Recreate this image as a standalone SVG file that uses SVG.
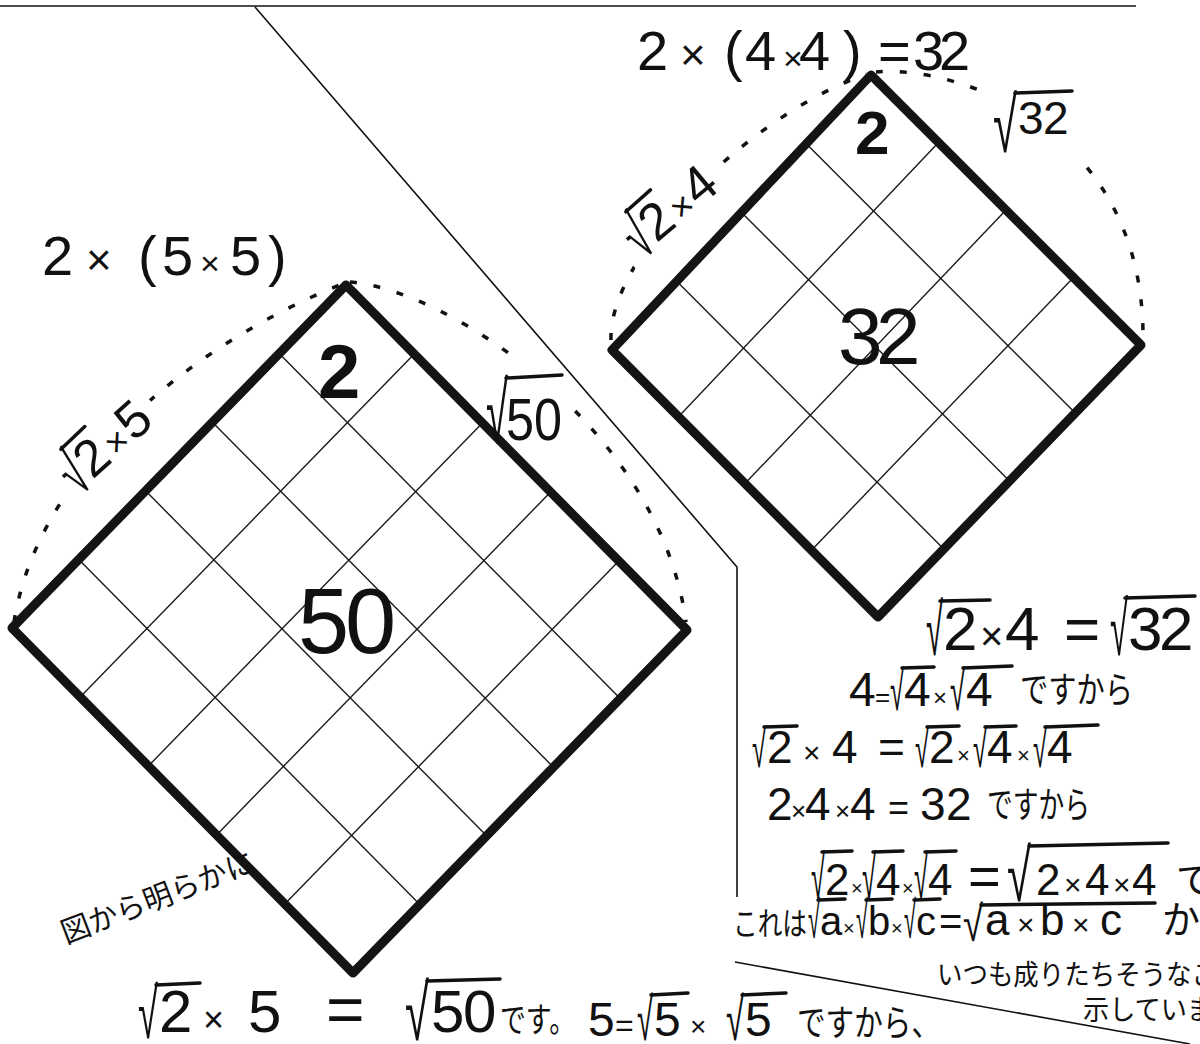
<svg xmlns="http://www.w3.org/2000/svg" width="1200" height="1044" viewBox="0 0 1200 1044">
<style>
.grid{stroke:#1a1a1a;stroke-width:1.4;fill:none}
.edge{stroke:#141414;stroke-width:9;fill:none;stroke-linejoin:round}
.arc{stroke:#111;stroke-width:3.5;fill:none;stroke-dasharray:7 17}
.frame{stroke:#111;stroke-width:1.6;fill:none}
.m{font-family:"Liberation Sans","DejaVu Sans",sans-serif;fill:#111}
.b{font-weight:bold}
.j{font-family:"Noto Sans CJK JP","Noto Sans CJK SC",sans-serif;fill:#111}
.v{stroke:#111;stroke-width:3.5;stroke-linecap:round;fill:none}
</style>
<defs>
<mask id="am" maskUnits="userSpaceOnUse" x="0" y="0" width="1200" height="1044">
<rect x="0" y="0" width="1200" height="1044" fill="#fff"/>
<rect x="-64" y="-34" width="128" height="62" fill="#000" transform="translate(105,446) rotate(-42)"/>
<rect x="-64" y="-34" width="128" height="62" fill="#000" transform="translate(670,210) rotate(-40)"/>
<rect x="482" y="360" width="86" height="88" fill="#000"/>
<rect x="985" y="84" width="95" height="76" fill="#000"/>
</mask>
</defs>
<rect x="0" y="0" width="1200" height="1044" fill="#fff"/>

<g id="connectors">
<line class="frame" x1="0" y1="6" x2="1136" y2="6" stroke-width="2"/>
<polyline class="frame" points="255,7 737,567 737,897"/>
<line class="frame" x1="735" y1="962" x2="1190" y2="1044" stroke-width="2"/>
<g mask="url(#am)">
<path class="arc" d="M14,622 C38,470 190,345 342,284"/>
<path class="arc" d="M350,282 C450,290 660,430 686,622"/>
<path class="arc" d="M611,340 C608,260 740,120 866,74"/>
<path class="arc" d="M876,72 C960,65 1145,130 1143,340"/>
</g>
</g>

<g id="square50">
<g class="grid">
<line x1="279.2" y1="353.6" x2="620.2" y2="698.6"/>
<line x1="212.4" y1="422.2" x2="553.4" y2="767.2"/>
<line x1="145.6" y1="490.8" x2="486.6" y2="835.8"/>
<line x1="78.8" y1="559.4" x2="419.8" y2="904.4"/>
<line x1="414.2" y1="354" x2="80.2" y2="697"/>
<line x1="482.4" y1="423" x2="148.4" y2="766"/>
<line x1="550.6" y1="492" x2="216.6" y2="835"/>
<line x1="618.8" y1="561" x2="284.8" y2="904"/>
</g>
<path class="edge" d="M346,285 L687,630 L353,973 L12,628 Z"/>
<text class="m b" x="318" y="398" font-size="76">2</text>
<text class="m" x="298 345" y="653" font-size="92">50</text>
</g>

<g id="square32">
<g class="grid">
<line x1="806.25" y1="143.75" x2="1075.25" y2="413"/>
<line x1="741.5" y1="212.5" x2="1009.5" y2="481"/>
<line x1="676.75" y1="281.25" x2="943.75" y2="549"/>
<line x1="938.5" y1="142.5" x2="678.5" y2="416.75"/>
<line x1="1006" y1="210" x2="745" y2="483.5"/>
<line x1="1073.5" y1="277.5" x2="811.5" y2="550.25"/>
</g>
<path class="edge" d="M871,75 L1141,345 L878,617 L612,350 Z"/>
<text class="m b" x="855" y="154" font-size="62">2</text>
<text class="m" x="838 876" y="364" font-size="80">32</text>
</g>

<g id="label-top32">
<text class="m" y="70" font-size="56"><tspan x="637">2</tspan><tspan x="680" font-size="44">×</tspan><tspan x="724">(</tspan><tspan x="745">4</tspan><tspan x="783" font-size="34">×</tspan><tspan x="799">4</tspan><tspan x="843">)</tspan><tspan x="878">=</tspan><tspan x="913">3</tspan><tspan x="939">2</tspan></text>
</g>

<g id="label-top50">
<text class="m" y="275" font-size="56"><tspan x="42">2</tspan><tspan x="86" font-size="44">×</tspan><tspan x="138">(</tspan><tspan x="162">5</tspan><tspan x="200" font-size="34">×</tspan><tspan x="230">5</tspan><tspan x="268">)</tspan></text>
</g>

<g id="label-r32">
<text class="m" x="993" y="152" font-size="78" textLength="24" lengthAdjust="spacingAndGlyphs">√</text>
<text class="m" x="1018 1043" y="134" font-size="46">32</text>
<line class="v" x1="1015" y1="93" x2="1072" y2="91"/>
</g>

<g id="label-r50">
<text class="m" x="486" y="443" font-size="86" textLength="22" lengthAdjust="spacingAndGlyphs">√</text>
<text class="m" x="506" y="440" font-size="60" textLength="56" lengthAdjust="spacingAndGlyphs">50</text>
<line class="v" x1="506" y1="378" x2="562" y2="375"/>
</g>

<g id="label-s25" transform="translate(105,446) rotate(-42)">
<text class="m" x="-53" y="21" font-size="64" textLength="21" lengthAdjust="spacingAndGlyphs">√</text>
<text class="m" y="17" font-size="52"><tspan x="-32">2</tspan><tspan x="1" font-size="36">×</tspan><tspan x="24">5</tspan></text>
<line class="v" x1="-35" y1="-27" x2="-2" y2="-28"/>
</g>

<g id="label-s24" transform="translate(670,210) rotate(-40)">
<text class="m" x="-53" y="21" font-size="64" textLength="21" lengthAdjust="spacingAndGlyphs">√</text>
<text class="m" y="17" font-size="52"><tspan x="-32">2</tspan><tspan x="1" font-size="36">×</tspan><tspan x="24">4</tspan></text>
<line class="v" x1="-35" y1="-27" x2="-2" y2="-28"/>
</g>

<g id="explain-right">
<text class="m" x="926" y="655" font-size="73" textLength="17" lengthAdjust="spacingAndGlyphs">√</text>
<text class="m" x="1110" y="655" font-size="76" textLength="18" lengthAdjust="spacingAndGlyphs">√</text>
<text class="m" y="650" font-size="62"><tspan x="943">2</tspan><tspan x="980" font-size="40">×</tspan><tspan x="1005">4</tspan><tspan x="1064">=</tspan><tspan x="1128">3</tspan><tspan x="1159">2</tspan></text>
<line class="v" x1="940" y1="601" x2="990" y2="600"/>
<line class="v" x1="1125" y1="598" x2="1195" y2="596"/>

<text class="m" x="890" y="710" font-size="56" textLength="14" lengthAdjust="spacingAndGlyphs">√</text>
<text class="m" x="950" y="710" font-size="56" textLength="15" lengthAdjust="spacingAndGlyphs">√</text>
<text class="m" y="706" font-size="48"><tspan x="849">4</tspan><tspan x="875" font-size="26">=</tspan><tspan x="904">4</tspan><tspan x="933" font-size="24">×</tspan><tspan x="966">4</tspan></text>
<line class="v" x1="902" y1="668" x2="934" y2="667"/>
<line class="v" x1="963" y1="668" x2="1012" y2="666"/>
<text class="j" x="1020" y="703" font-size="36" textLength="113" lengthAdjust="spacingAndGlyphs">ですから</text>

<text class="m" x="752" y="767" font-size="53" textLength="14" lengthAdjust="spacingAndGlyphs">√</text>
<text class="m" x="915" y="767" font-size="53" textLength="14" lengthAdjust="spacingAndGlyphs">√</text>
<text class="m" x="973" y="767" font-size="53" textLength="14" lengthAdjust="spacingAndGlyphs">√</text>
<text class="m" x="1033" y="767" font-size="53" textLength="14" lengthAdjust="spacingAndGlyphs">√</text>
<text class="m" y="763" font-size="46"><tspan x="767">2</tspan><tspan x="803" font-size="30">×</tspan><tspan x="832">4</tspan><tspan x="878">=</tspan><tspan x="929">2</tspan><tspan x="957" font-size="22">×</tspan><tspan x="987">4</tspan><tspan x="1017" font-size="22">×</tspan><tspan x="1047">4</tspan></text>
<line class="v" x1="764" y1="727" x2="797" y2="726"/>
<line class="v" x1="927" y1="727" x2="959" y2="726"/>
<line class="v" x1="985" y1="727" x2="1016" y2="726"/>
<line class="v" x1="1045" y1="727" x2="1098" y2="725"/>

<text class="m" y="820" font-size="46"><tspan x="767">2</tspan><tspan x="791" font-size="26">×</tspan><tspan x="805">4</tspan><tspan x="835" font-size="26">×</tspan><tspan x="850">4</tspan><tspan x="888" font-size="36">=</tspan><tspan x="920">3</tspan><tspan x="946">2</tspan></text>
<text class="j" x="987" y="818" font-size="36" textLength="103" lengthAdjust="spacingAndGlyphs">ですから</text>

<text class="m" x="811" y="899" font-size="62" textLength="14" lengthAdjust="spacingAndGlyphs">√</text>
<text class="m" x="862" y="899" font-size="62" textLength="14" lengthAdjust="spacingAndGlyphs">√</text>
<text class="m" x="914" y="899" font-size="62" textLength="14" lengthAdjust="spacingAndGlyphs">√</text>
<text class="m" x="1007" y="901" font-size="74" textLength="24" lengthAdjust="spacingAndGlyphs">√</text>
<text class="m" y="895" font-size="44"><tspan x="825">2</tspan><tspan x="851" font-size="20">×</tspan><tspan x="876">4</tspan><tspan x="902" font-size="20">×</tspan><tspan x="928">4</tspan><tspan x="968" font-size="56">=</tspan><tspan x="1036">2</tspan><tspan x="1064" font-size="30">×</tspan><tspan x="1085">4</tspan><tspan x="1113" font-size="30">×</tspan><tspan x="1132">4</tspan></text>
<line class="v" x1="822" y1="852" x2="852" y2="851"/>
<line class="v" x1="873" y1="852" x2="903" y2="851"/>
<line class="v" x1="925" y1="852" x2="956" y2="851"/>
<line class="v" x1="1029" y1="846" x2="1168" y2="843"/>
<text class="j" x="1176" y="893" font-size="38">で</text>

<text class="j" x="733" y="935" font-size="32" textLength="74" lengthAdjust="spacingAndGlyphs">これは</text>
<text class="m" x="808" y="938" font-size="52" textLength="12" lengthAdjust="spacingAndGlyphs">√</text>
<text class="m" x="856" y="938" font-size="52" textLength="12" lengthAdjust="spacingAndGlyphs">√</text>
<text class="m" x="904" y="938" font-size="52" textLength="12" lengthAdjust="spacingAndGlyphs">√</text>
<text class="m" x="963" y="941" font-size="50" textLength="20" lengthAdjust="spacingAndGlyphs">√</text>
<text class="m" y="935" font-size="40"><tspan x="820">a</tspan><tspan x="843" font-size="20">×</tspan><tspan x="868">b</tspan><tspan x="891" font-size="20">×</tspan><tspan x="916">c</tspan><tspan x="939">=</tspan><tspan x="985" font-size="44">a</tspan><tspan x="1017" font-size="30">×</tspan><tspan x="1040" font-size="44">b</tspan><tspan x="1072" font-size="30">×</tspan><tspan x="1100" font-size="44">c</tspan></text>
<line class="v" x1="818" y1="900" x2="845" y2="899"/>
<line class="v" x1="866" y1="900" x2="892" y2="899"/>
<line class="v" x1="914" y1="900" x2="940" y2="899"/>
<line class="v" x1="981" y1="905" x2="1155" y2="903"/>
<text class="j" x="1162" y="933" font-size="38">か</text>

<text class="j" x="937" y="985" font-size="28" textLength="280" lengthAdjust="spacingAndGlyphs">いつも成りたちそうなこ</text>
<text class="j" x="1083" y="1020" font-size="28" textLength="130" lengthAdjust="spacingAndGlyphs">示していま</text>
</g>

<g id="explain-bottom">
<text class="j" x="0" y="10" font-size="30" text-anchor="middle" textLength="205" lengthAdjust="spacingAndGlyphs" transform="translate(158,898) rotate(-21)">図から明らかに</text>
<text class="m" x="138" y="1038" font-size="71" textLength="20" lengthAdjust="spacingAndGlyphs">√</text>
<text class="m" x="405" y="1040" font-size="79" textLength="24" lengthAdjust="spacingAndGlyphs">√</text>
<text class="m" y="1032" font-size="60"><tspan x="159">2</tspan><tspan x="203" font-size="36">×</tspan><tspan x="248">5</tspan><tspan x="326" font-size="66">=</tspan><tspan x="431">5</tspan><tspan x="463">0</tspan></text>
<line class="v" x1="156" y1="985" x2="200" y2="983"/>
<line class="v" x1="427" y1="981" x2="500" y2="979"/>
<text class="j" x="500" y="1032" font-size="34" textLength="75" lengthAdjust="spacingAndGlyphs">です。</text>
<text class="m" x="637" y="1040" font-size="60" textLength="16" lengthAdjust="spacingAndGlyphs">√</text>
<text class="m" x="726" y="1040" font-size="60" textLength="18" lengthAdjust="spacingAndGlyphs">√</text>
<text class="m" y="1036" font-size="48"><tspan x="588">5</tspan><tspan x="615" font-size="32">=</tspan><tspan x="654">5</tspan><tspan x="690" font-size="28">×</tspan><tspan x="745">5</tspan></text>
<line class="v" x1="651" y1="995" x2="688" y2="993"/>
<line class="v" x1="742" y1="995" x2="786" y2="993"/>
<text class="j" x="797" y="1036" font-size="36" textLength="143" lengthAdjust="spacingAndGlyphs">ですから、</text>
</g>
</svg>
